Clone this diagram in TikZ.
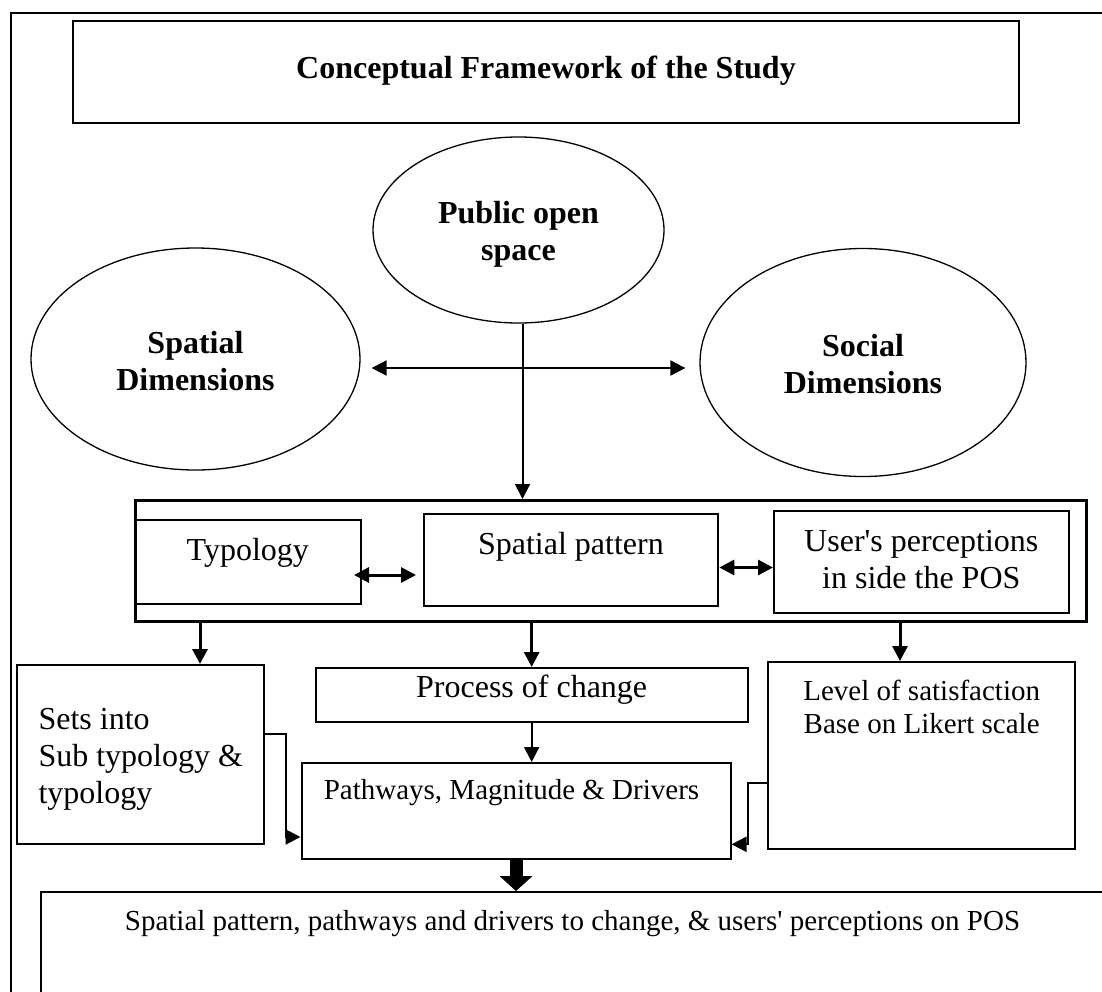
\documentclass[tikz,border=0pt]{standalone}
\usepackage{fontspec}
\setmainfont{Liberation Serif}
\usetikzlibrary{shapes.geometric,arrows.meta}
\newcommand\stacklines[2]{\begin{tabular}[t]{@{}c@{}}#1\\#2\end{tabular}}

\begin{document}
\begin{tikzpicture}[x=1pt,y=-1pt,
  bigtext/.style={font=\fontsize{32}{37}\selectfont},
  smalltext/.style={font=\fontsize{29}{33.7}\selectfont},
  boxn/.style={draw, rectangle, inner sep=0pt, line width=2pt, anchor=north},
  oval/.style={draw, ellipse, inner sep=0pt, line width=1.3pt,
    font=\fontsize{32}{37.5}\selectfont\bfseries},
  tip/.style={-{Triangle[length=15pt,width=15pt]}},
  both/.style={{Triangle[length=15pt,width=15pt]}-{Triangle[length=15pt,width=15pt]}},
]
\useasboundingbox (0,0) rectangle (1102,991);
\clip (0,0) rectangle (1102,991);

% outer frame
\node[draw, line width=2pt, inner sep=0pt, minimum width=1100pt, minimum height=1000pt,
  anchor=north west] (frame) at (10,12) {};

% title
\node[boxn, font=\fontsize{32}{37}\selectfont\bfseries, minimum width=946pt,
  text height=57pt, text depth=45pt] (title) at (546,20) {Conceptual Framework of the Study};

% the three dimensions
\node[oval, minimum width=291pt, minimum height=186pt, text height=20pt, text depth=34pt]
  (pos) at (518.5,230) {\stacklines{Public open}{space}};
\node[oval, minimum width=329pt, minimum height=222pt, text height=20pt, text depth=32pt]
  (sd) at (195.5,359) {\stacklines{Spatial}{Dimensions}};
\node[oval, minimum width=326pt, minimum height=228pt, text height=20pt, text depth=33pt]
  (soc) at (863,362.5) {\stacklines{Social}{Dimensions}};

% grouping box with its three components
\node[draw, line width=3pt, inner sep=0pt, minimum width=950.4pt, minimum height=121pt,
  anchor=north] (grp) at (610.8,499) {};
\node[boxn, bigtext, minimum width=226.4pt, text height=40pt, text depth=44pt]
  (typ) at (247.8,519) {Typology};
\node[boxn, bigtext, minimum width=294.8pt, text height=40pt, text depth=52pt]
  (sp) at (570.9,513) {Spatial pattern};
\node[boxn, bigtext, minimum width=294.6pt, text height=40pt, text depth=62pt]
  (usr) at (921.3,510) {\stacklines{User\textquotesingle s perceptions}{in side the POS}};

% second level
\node[boxn, bigtext, minimum width=247.3pt, text height=64pt, text depth=115pt]
  (sets) at (140.4,664) {\makebox[203.7pt][l]{\begin{tabular}[t]{@{}l@{}}Sets into\\Sub typology \&\\typology\end{tabular}}};
\node[boxn, bigtext, minimum width=432.3pt, text height=29pt, text depth=24.7pt]
  (proc) at (531.65,667) {Process of change};
\node[boxn, smalltext, minimum width=429pt, text height=36pt, text depth=60pt]
  (path) at (516,762) {Pathways, Magnitude \& Drivers\hspace*{9pt}};
\node[boxn, smalltext, minimum width=306.7pt, text height=38pt, text depth=149.3pt]
  (lev) at (921.65,661) {\stacklines{Level of satisfaction}{Base on Likert scale}};

% outcome
\node[boxn, smalltext, minimum width=1063pt, text height=38pt, text depth=71pt]
  (res) at (572.5,891) {Spatial pattern, pathways and drivers to change, \& users\textquotesingle{} perceptions on POS};

% connectors between the dimensions
\path (sd.east) ++(11,9) coordinate (hl);
\path (soc.west) ++(-14,5.5) coordinate (hr);
\draw[both, line width=2pt] (hl) -- (hr);
\path ([xshift=4pt]pos.south) coordinate (pv);
\draw[tip, line width=2pt] (pv) -- (pv |- grp.north);

% links inside the grouping box
\path ([yshift=-13pt]typ.east) ++(-8,0) coordinate (t1);
\path (t1 -| sp.west) ++(-6.5,0) coordinate (t2);
\draw[both, line width=3pt] (t1) -- (t2);
\path ([yshift=-7.5pt]sp.east) coordinate (s1);
\draw[both, line width=3pt] (s1) -- (s1 -| usr.west);

% from the grouping box downwards
\path ([xshift=59.6pt]sets.north) coordinate (d1);
\draw[tip, line width=3pt] (d1 |- grp.south) -- (d1);
\draw[tip, line width=3pt] (proc.north |- grp.south) -- (proc.north);
\path ([xshift=-21.65pt]lev.north) coordinate (d3);
\draw[tip, line width=3pt] (d3 |- grp.south) -- (d3);

% into the pathways box
\draw[tip, line width=2pt] (proc.south) -- (proc.south |- path.north);
\draw[tip, line width=2pt] ([yshift=20.8pt]sets.east) -- ++(20.7,0) |- ([yshift=-26pt]path.west);
\draw[tip, line width=2pt] ([yshift=-27pt]lev.west) -- ++(-19,0) |- ([yshift=-33.3pt]path.east);

% to the outcome
\draw[line width=13pt, -{Triangle[length=15pt,width=33pt,line width=0pt]}]
  (path.south) -- (path.south |- res.north);
\end{tikzpicture}
\end{document}
